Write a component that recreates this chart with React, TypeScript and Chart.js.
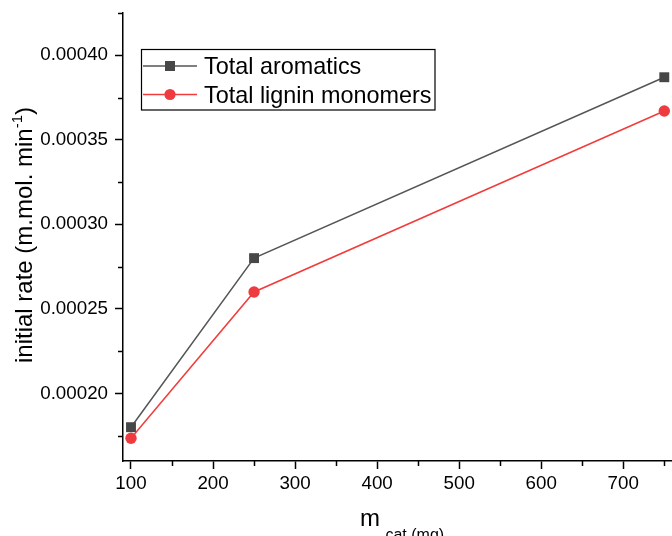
import React, { useEffect, useRef } from "react";
import { Chart, registerables } from "chart.js";

Chart.register(...registerables);

// Catalyst mass (mg)
const massCat = [100, 250, 750];
// Initial rates (m.mol. min^-1)
const totalAromatics = [0.00018, 0.00028, 0.000387];
const totalLigninMonomers = [0.0001735, 0.00026, 0.000367];

const seriesNames = ["Total aromatics", "Total lignin monomers"];

const xMajorTicks = [100, 200, 300, 400, 500, 600, 700];
const xMinorTicks = [150, 250, 350, 450, 550, 650, 750];
const yMajorTicks = [0.0002, 0.00025, 0.0003, 0.00035, 0.0004];
const yMinorTicks = [0.000175, 0.000225, 0.000275, 0.000325, 0.000375, 0.000425];

const FONT = "'Liberation Sans', Arial, sans-serif";
const GREY_LINE = "#555555";
const GREY_MARK = "#474747";
const RED_LINE = "#f23c3c";
const RED_MARK = "#ee3b3f";

const noScalePadding = (s: any) => {
  s.paddingTop = 0;
  s.paddingBottom = 0;
  s.paddingLeft = 0;
  s.paddingRight = 0;
};

const decorPlugin = {
  id: "decor",
  afterDraw(chart: any) {
    const ctx = chart.ctx as CanvasRenderingContext2D;
    const xs = chart.scales.x;
    const ys = chart.scales.y;
    const area = chart.chartArea;
    ctx.save();

    // minor ticks
    ctx.strokeStyle = "#000";
    ctx.lineWidth = 1.5;
    ctx.beginPath();
    for (const v of xMinorTicks) {
      const px = Math.round(xs.getPixelForValue(v)) + 0.5;
      ctx.moveTo(px, area.bottom);
      ctx.lineTo(px, area.bottom + 5);
    }
    for (const v of yMinorTicks) {
      const py = Math.round(ys.getPixelForValue(v)) + 0.5;
      ctx.moveTo(area.left - 5, py);
      ctx.lineTo(area.left, py);
    }
    ctx.stroke();

    ctx.fillStyle = "#000";
    ctx.textBaseline = "alphabetic";
    ctx.textAlign = "left";

    // y-axis title with superscript
    const main = "initial rate (m.mol. min";
    const sup = "-1";
    const close = ")";
    ctx.font = `24px ${FONT}`;
    const wMain = ctx.measureText(main).width;
    const wClose = ctx.measureText(close).width;
    ctx.font = `15px ${FONT}`;
    const wSup = ctx.measureText(sup).width;
    const total = wMain + wSup + wClose;
    ctx.save();
    ctx.translate(32, 235);
    ctx.rotate(-Math.PI / 2);
    let x0 = -total / 2;
    ctx.font = `24px ${FONT}`;
    ctx.fillText(main, x0, 0);
    x0 += wMain;
    ctx.font = `15px ${FONT}`;
    ctx.fillText(sup, x0, -10);
    x0 += wSup;
    ctx.font = `24px ${FONT}`;
    ctx.fillText(close, x0, 0);
    ctx.restore();

    // x-axis title with subscript
    ctx.font = `24px ${FONT}`;
    ctx.fillText("m", 360, 526);
    const wm = ctx.measureText("m").width;
    ctx.font = `16px ${FONT}`;
    ctx.fillText(" cat (mg)", 360 + wm + 1, 540);

    // legend
    const bx = 141.5, by = 49.5, bw = 293.5, bh = 60.5;
    ctx.fillStyle = "#fff";
    ctx.fillRect(bx, by, bw, bh);
    ctx.strokeStyle = "#000";
    ctx.lineWidth = 1.2;
    ctx.strokeRect(bx, by, bw, bh);

    const rows = [
      { y: 66, line: GREY_LINE, mark: GREY_MARK, style: "rect" },
      { y: 94.5, line: RED_LINE, mark: RED_MARK, style: "circle" },
    ];
    rows.forEach((r, i) => {
      ctx.strokeStyle = r.line;
      ctx.lineWidth = 1.5;
      ctx.beginPath();
      ctx.moveTo(143, r.y);
      ctx.lineTo(197, r.y);
      ctx.stroke();
      ctx.fillStyle = r.mark;
      if (r.style === "rect") {
        ctx.fillRect(170 - 5, r.y - 5, 10, 10);
      } else {
        ctx.beginPath();
        ctx.arc(170, r.y, 5.6, 0, Math.PI * 2);
        ctx.fill();
      }
      ctx.fillStyle = "#000";
      ctx.font = `23.4px ${FONT}`;
      ctx.fillText(seriesNames[i], 204, r.y + 8);
    });

    ctx.restore();
  },
};

export default function App() {
  const canvasRef = useRef<HTMLCanvasElement | null>(null);

  useEffect(() => {
    if (!canvasRef.current) return;
    const toPoints = (ys: number[]) => massCat.map((x, i) => ({ x, y: ys[i] }));
    const chart = new Chart(canvasRef.current, {
      type: "scatter",
      data: {
        datasets: [
          {
            label: seriesNames[0],
            data: toPoints(totalAromatics),
            showLine: true,
            borderColor: GREY_LINE,
            borderWidth: 1.5,
            pointStyle: "rect",
            pointRadius: 7,
            pointBackgroundColor: GREY_MARK,
            pointBorderColor: GREY_MARK,
            pointBorderWidth: 0,
            clip: false,
          },
          {
            label: seriesNames[1],
            data: toPoints(totalLigninMonomers),
            showLine: true,
            borderColor: RED_LINE,
            borderWidth: 1.5,
            pointStyle: "circle",
            pointRadius: 5.7,
            pointBackgroundColor: RED_MARK,
            pointBorderColor: RED_MARK,
            pointBorderWidth: 0,
            clip: false,
          },
        ],
      },
      options: {
        animation: false,
        responsive: false,
        layout: { autoPadding: false, padding: { top: 13, left: 0, right: 0, bottom: 0 } },
        plugins: {
          legend: { display: false },
          tooltip: { enabled: false },
        },
        scales: {
          x: {
            type: "linear",
            min: 90.25,
            max: 759.4,
            afterBuildTicks: (s: any) => {
              s.ticks = xMajorTicks.map((value) => ({ value }));
            },
            afterFit: (s: any) => {
              s.height = 75;
              noScalePadding(s);
            },
            grid: {
              display: true,
              drawOnChartArea: false,
              drawTicks: true,
              tickLength: 8,
              tickWidth: 1.5,
              tickColor: "#000",
            },
            border: { display: true, color: "#000", width: 1.5 },
            ticks: {
              color: "#000",
              font: { family: FONT, size: 18.75 },
              padding: 4,
              maxRotation: 0,
              autoSkip: false,
              callback: (v: any) => String(v),
            },
          },
          y: {
            type: "linear",
            min: 0.00016,
            max: 0.000425,
            afterBuildTicks: (s: any) => {
              s.ticks = yMajorTicks.map((value) => ({ value }));
            },
            afterFit: (s: any) => {
              s.width = 123;
              noScalePadding(s);
            },
            grid: {
              display: true,
              drawOnChartArea: false,
              drawTicks: true,
              tickLength: 8,
              tickWidth: 1.5,
              tickColor: "#000",
            },
            border: { display: true, color: "#000", width: 1.5 },
            ticks: {
              color: "#000",
              font: { family: FONT, size: 18.75 },
              padding: 7,
              autoSkip: false,
              callback: (v: any) => Number(v).toFixed(5),
            },
          },
        },
      },
      plugins: [decorPlugin],
    });
    return () => chart.destroy();
  }, []);

  return (
    <div style={{ position: "fixed", left: 0, top: 0, width: 672, height: 536, background: "#fff" }}>
      <canvas ref={canvasRef} width={672} height={536} style={{ display: "block" }} />
    </div>
  );
}
